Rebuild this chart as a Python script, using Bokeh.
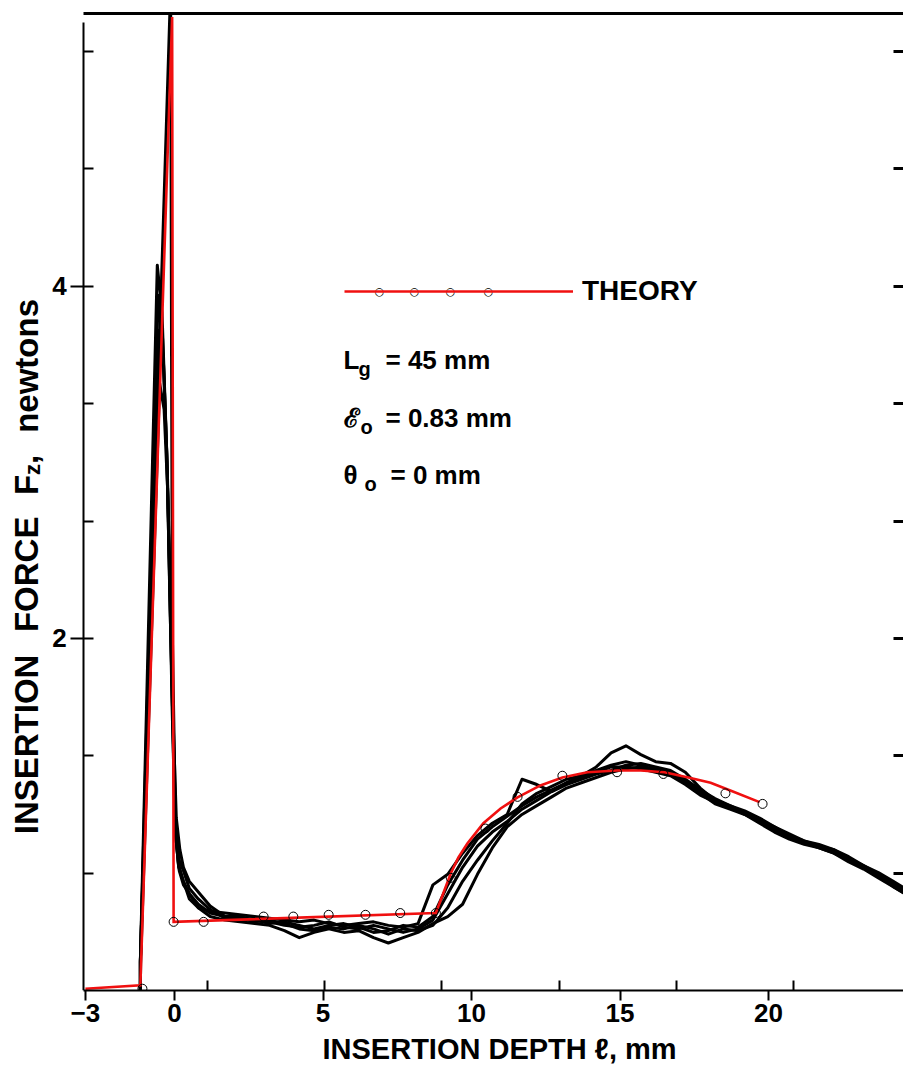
import numpy as np
from bokeh.plotting import figure
from bokeh.models import (FixedTicker, LinearAxis, Label, Legend, LegendItem,
                          Range1d, Title)
from bokeh.embed import file_html
from bokeh.resources import INLINE

FONT = "Liberation Sans"

# ---------------- data ----------------
X_TICKS = [-3, 0, 5, 10, 15, 20]
X_TICK_LABELS = ["\u22123", "0", "5", "10", "15", "20"]
X_MINOR_TICKS = [1.1, 5.05, 9.0, 12.95, 16.9, 20.85]
Y_TICKS = [2, 4]
Y_TICK_LABELS = ["2", "4"]
Y_MINOR_TICKS = [0.667, 1.333, 2.0, 2.667, 3.333, 4.0, 4.667, 5.333]

# theory curve (red) and its computed points (open circles)
THEORY_X = [-3.0, -1.15, -0.08, -0.03, 8.8, 9.3, 9.56, 9.86, 10.4, 10.98, 11.55,
            12.32, 13.06, 13.9, 14.9, 15.7, 16.5, 17.3, 18.05, 18.8, 19.7]
THEORY_Y = [0.01, 0.03, 5.53, 0.39, 0.44, 0.665, 0.756, 0.835, 0.95, 1.034, 1.097,
            1.165, 1.21, 1.24, 1.25, 1.25, 1.24, 1.21, 1.18, 1.13, 1.07]
CIRCLE_X = [-1.08, -0.03, 0.98, 3.0, 4.0, 5.19, 6.43, 7.6, 8.8, 9.3, 10.47,
            11.55, 13.06, 14.9, 16.46, 18.55, 19.8]
CIRCLE_Y = [0.01, 0.39, 0.39, 0.42, 0.42, 0.43, 0.43, 0.44, 0.44, 0.64, 0.92,
            1.10, 1.22, 1.24, 1.23, 1.12, 1.06]

# measured insertion traces (black): peak part per trace + shared depth grid
HEAD_X_1 = [-1.15, -1.15, -0.58, -0.42, -0.26, -0.15, -0.08, 0.03, 0.14]
HEAD_Y_1 = [0.0, 0.17, 4.12, 3.85, 3.05, 2.2, 1.6, 0.9, 0.7]
HEAD_X_2 = [-1.15, -1.15, -0.13, -0.1, -0.07, 0.04, 0.16]
HEAD_Y_2 = [0.0, 0.17, 5.7, 3.6, 2.0, 0.88, 0.68]
HEAD_X_3 = [-1.15, -1.15, -0.52, -0.38, -0.24, -0.14, -0.06, 0.04, 0.16]
HEAD_Y_3 = [0.0, 0.16, 3.75, 3.6, 2.95, 2.15, 1.55, 0.95, 0.74]
HEAD_X_4 = [-1.15, -1.14, -0.5, -0.35, -0.22, -0.12, -0.04, 0.06, 0.18]
HEAD_Y_4 = [0.0, 0.15, 3.45, 3.3, 2.8, 2.1, 1.5, 0.98, 0.8]
HEAD_X_5 = [-1.15, -1.15, -0.55, -0.4, -0.25, -0.16, -0.07, 0.02, 0.13]
HEAD_Y_5 = [0.0, 0.16, 3.95, 3.7, 3.0, 2.25, 1.62, 0.92, 0.72]

TAIL_X = [0.3, 0.5, 0.8, 1.2, 1.7, 2.2, 2.7, 3.2, 3.7, 4.2, 4.7, 5.2, 5.7, 6.2,
          6.7, 7.2, 7.7, 8.2, 8.7, 9.2, 9.7, 10.2, 10.7, 11.2, 11.7, 12.2, 12.7,
          13.2, 13.7, 14.2, 14.7, 15.2, 15.7, 16.2, 16.7, 17.2, 17.7, 18.2, 18.7,
          19.2, 19.7, 20.2, 20.7, 21.2, 21.7, 22.2, 22.7, 23.2, 23.7, 24.2, 24.6]
TAIL_Y_1 = [0.62, 0.52, 0.47, 0.45, 0.44, 0.43, 0.42, 0.41, 0.40, 0.39, 0.40,
            0.38, 0.37, 0.38, 0.39, 0.37, 0.36, 0.38, 0.60, 0.66, 0.78, 0.88,
            0.95, 1.00, 1.20, 1.17, 1.13, 1.18, 1.22, 1.27, 1.35, 1.39, 1.34,
            1.30, 1.29, 1.24, 1.15, 1.08, 1.05, 1.01, 0.96, 0.91, 0.87, 0.84,
            0.82, 0.80, 0.75, 0.70, 0.65, 0.59, 0.55]
TAIL_Y_2 = [0.60, 0.55, 0.47, 0.42, 0.40, 0.39, 0.38, 0.37, 0.34, 0.30, 0.33,
            0.35, 0.33, 0.34, 0.30, 0.27, 0.30, 0.33, 0.38, 0.42, 0.49, 0.66,
            0.81, 0.93, 1.00, 1.05, 1.10, 1.15, 1.18, 1.21, 1.24, 1.26, 1.27,
            1.26, 1.24, 1.19, 1.13, 1.08, 1.04, 1.01, 0.97, 0.93, 0.89, 0.85,
            0.82, 0.79, 0.75, 0.71, 0.67, 0.62, 0.58]
TAIL_Y_3 = [0.68, 0.58, 0.52, 0.46, 0.41, 0.40, 0.41, 0.39, 0.37, 0.36, 0.37,
            0.39, 0.36, 0.35, 0.37, 0.35, 0.33, 0.35, 0.40, 0.55, 0.70, 0.82,
            0.90, 0.96, 1.03, 1.08, 1.13, 1.17, 1.20, 1.23, 1.25, 1.28, 1.29,
            1.27, 1.25, 1.20, 1.14, 1.09, 1.05, 1.02, 0.98, 0.93, 0.88, 0.85,
            0.83, 0.80, 0.76, 0.71, 0.66, 0.61, 0.57]
TAIL_Y_4 = [0.70, 0.62, 0.56, 0.48, 0.42, 0.41, 0.39, 0.40, 0.38, 0.35, 0.34,
            0.36, 0.35, 0.37, 0.35, 0.32, 0.35, 0.34, 0.37, 0.47, 0.62, 0.74,
            0.85, 0.95, 1.06, 1.12, 1.16, 1.20, 1.22, 1.25, 1.28, 1.30, 1.28,
            1.25, 1.23, 1.18, 1.12, 1.06, 1.03, 1.00, 0.96, 0.92, 0.87, 0.84,
            0.81, 0.78, 0.74, 0.70, 0.65, 0.60, 0.56]
TAIL_Y_5 = [0.62, 0.55, 0.49, 0.44, 0.42, 0.42, 0.40, 0.38, 0.39, 0.37, 0.35,
            0.37, 0.38, 0.36, 0.33, 0.34, 0.37, 0.36, 0.42, 0.60, 0.74, 0.86,
            0.93, 0.99, 1.05, 1.10, 1.14, 1.18, 1.21, 1.24, 1.27, 1.27, 1.26,
            1.24, 1.22, 1.17, 1.11, 1.07, 1.04, 1.00, 0.95, 0.90, 0.86, 0.83,
            0.81, 0.78, 0.73, 0.69, 0.64, 0.59, 0.55]

TRACES = [(HEAD_X_1, HEAD_Y_1, TAIL_Y_1), (HEAD_X_2, HEAD_Y_2, TAIL_Y_2),
          (HEAD_X_3, HEAD_Y_3, TAIL_Y_3), (HEAD_X_4, HEAD_Y_4, TAIL_Y_4),
          (HEAD_X_5, HEAD_Y_5, TAIL_Y_5)]

X_LABEL = "INSERTION DEPTH \u2113, mm"
Y_LABEL_PARTS = ["INSERTION", "FORCE", "F", "z", ",", "newtons"]
LEGEND_LABEL = "THEORY"

X_START, X_END = -3.06, 24.55     # plotted axis extent
Y_START, Y_END = 0.0, 5.55

# ---------------- figure ----------------
# the frame spans the full page width so that the rotated y-label (drawn as
# annotations) lies inside it; the left axis is pinned at X_START.
p = figure(width=903, height=1076, x_range=Range1d(-5.859, 24.545),
           y_range=Range1d(Y_START, Y_END), output_backend="svg",
           toolbar_location=None, x_axis_type=None, y_axis_type=None,
           min_border_left=0, min_border_right=0, min_border_top=13,
           min_border_bottom=86)
p.outline_line_color = None
p.background_fill_color = "white"
p.border_fill_color = "white"

# bottom axis
xa = LinearAxis(ticker=FixedTicker(ticks=X_TICKS, minor_ticks=X_MINOR_TICKS),
                bounds=(X_START, X_END))
xa.major_label_overrides = {t: s for t, s in zip(X_TICKS, X_TICK_LABELS)}
xa.axis_line_width = 2
xa.major_tick_out = 10
xa.major_tick_in = 0
xa.minor_tick_in = 10
xa.minor_tick_out = 0
xa.major_tick_line_width = 2
xa.minor_tick_line_width = 2
xa.major_label_standoff = 3
xa.major_label_text_font = FONT
xa.major_label_text_font_size = "26px"
xa.major_label_text_font_style = "bold"
xa.major_label_text_color = "black"
p.add_layout(xa, "below")

xt = Title(text=X_LABEL, align="left", offset=322, standoff=12,
           text_font=FONT, text_font_size="29px", text_font_style="bold",
           text_color="black")
p.add_layout(xt, "below")

# left axis, pinned at the left end of the data extent
ya = LinearAxis(ticker=FixedTicker(ticks=Y_TICKS, minor_ticks=Y_MINOR_TICKS),
                fixed_location=X_START, bounds=(Y_START, 5.5))
ya.major_label_overrides = {t: s for t, s in zip(Y_TICKS, Y_TICK_LABELS)}
ya.axis_line_width = 2
ya.major_tick_out = 13
ya.major_tick_in = 0
ya.minor_tick_in = 10
ya.minor_tick_out = 0
ya.major_tick_line_width = 2
ya.minor_tick_line_width = 2
ya.major_label_standoff = 4
ya.major_label_text_font = FONT
ya.major_label_text_font_size = "26px"
ya.major_label_text_font_style = "bold"
ya.major_label_text_color = "black"
ya.major_label_orientation = "horizontal"
p.add_layout(ya, "left")

# right axis: only inward dashes (minor ticks, no labels)
ra = LinearAxis(ticker=FixedTicker(ticks=[], minor_ticks=Y_MINOR_TICKS))
ra.axis_line_color = None
ra.minor_tick_in = 10
ra.minor_tick_out = 0
ra.minor_tick_line_width = 3
ra.major_tick_line_color = None
ra.major_label_standoff = 0
p.add_layout(ra, "right")

# top border line
ta = LinearAxis(ticker=FixedTicker(ticks=[]), bounds=(X_START, X_END))
ta.axis_line_width = 3
ta.major_tick_line_color = None
ta.minor_tick_line_color = None
ta.major_label_standoff = 0
p.add_layout(ta, "above")

# measured traces
for hx, hy, ty in TRACES:
    p.line(hx + TAIL_X, hy + ty, line_color="black", line_width=3,
           line_join="round", line_cap="round")

# theory
theory = p.line(THEORY_X, THEORY_Y, line_color="#f01010", line_width=2.6,
                line_join="miter")
p.scatter(CIRCLE_X, CIRCLE_Y, marker="circle", size=9, fill_color=None,
          line_color="black", line_width=1)

# legend
legend = Legend(items=[LegendItem(label=LEGEND_LABEL, renderers=[theory])],
                location=(344, 683), glyph_width=229, glyph_height=20,
                label_standoff=9, padding=0, margin=0, spacing=0,
                label_text_font=FONT, label_text_font_size="28px",
                label_text_font_style="bold",
                label_text_color="black", background_fill_alpha=0,
                border_line_alpha=0)
p.add_layout(legend, "center")

LEG_X0 = 5.69
LEG_Y = 3.97
for off in [36, 71, 107, 145]:
    p.add_layout(Label(x=LEG_X0, y=LEG_Y, x_offset=off, text="\u25cb",
                       text_align="center", text_baseline="middle",
                       text_font="DejaVu Sans", text_font_size="11px",
                       text_color="black"))

# parameter annotations
def add_param(y, main, sub, rest, sub_dx, rest_dx):
    p.add_layout(Label(x=LEG_X0, y=y, text=main, text_font=FONT,
                       text_font_size="26px", text_font_style="bold",
                       text_color="black", text_baseline="alphabetic"))
    p.add_layout(Label(x=LEG_X0, y=y, x_offset=sub_dx, y_offset=-9, text=sub,
                       text_font=FONT, text_font_size="20px",
                       text_font_style="bold", text_color="black",
                       text_baseline="alphabetic"))
    p.add_layout(Label(x=LEG_X0, y=y, x_offset=rest_dx, text=rest, text_font=FONT,
                       text_font_size="26px", text_font_style="bold",
                       text_color="black", text_baseline="alphabetic"))

add_param(3.58, "L", "g", "= 45 mm", 15, 42)
add_param(3.25, "\u2130", "o", "= 0.83 mm", 17, 42)
add_param(2.93, "\u03b8", "o", "= 0 mm", 21, 47)

# y-axis label, word by word (rotated), spread along the axis like the original
YL_X = -5.0
YL_POS = [1.398, 2.364, 2.872, 2.960, 3.017, 3.548]
YL_SIZE = ["33px", "33px", "33px", "22px", "33px", "33px"]
YL_DX = [0, 0, 0, 6, 0, 0]
for word, yc, fs, dx in zip(Y_LABEL_PARTS, YL_POS, YL_SIZE, YL_DX):
    p.add_layout(Label(x=YL_X, y=yc, x_offset=dx, text=word, angle=np.pi / 2,
                       text_align="center", text_baseline="alphabetic",
                       text_font=FONT, text_font_size=fs,
                       text_font_style="bold", text_color="black"))

open("out.html", "w").write(file_html(p, INLINE))
